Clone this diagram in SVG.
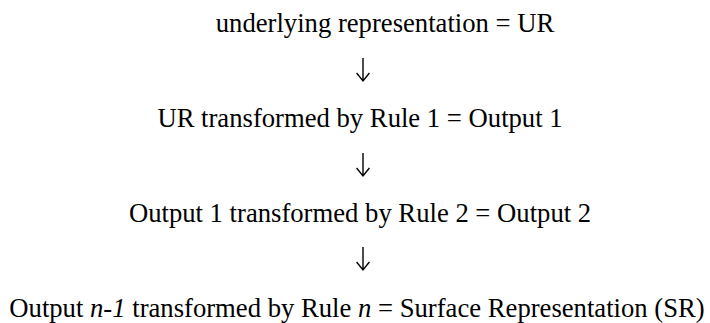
<svg xmlns="http://www.w3.org/2000/svg" width="710" height="323" viewBox="0 0 710 323">
<style>
.t{font-family:"Liberation Serif","Times New Roman",serif;font-size:26.67px;fill:#000;text-anchor:middle}
.a{stroke:#000;stroke-width:1.4;fill:none}
</style>
<defs>
<marker id="ah" viewBox="0 0 14 9" refX="7" refY="8" markerWidth="14" markerHeight="9" markerUnits="userSpaceOnUse" orient="auto-start-reverse">
</marker>
</defs>
<rect width="710" height="323" fill="#fff"/>
<g id="n1"><text class="t" x="385" y="32">underlying representation = UR</text></g>
<g id="n2"><text class="t" x="360" y="127">UR transformed by Rule 1 = Output 1</text></g>
<g id="n3"><text class="t" x="360" y="222">Output 1 transformed by Rule 2 = Output 2</text></g>
<g id="n4"><text class="t" x="357" y="317">Output <tspan font-style="italic">n-1</tspan> transformed by Rule <tspan font-style="italic">n</tspan> = Surface Representation (SR)</text></g>
<g id="connectors">
<path class="a" d="M363 58V81M356.6 73L363 81L369.4 73"/>
<path class="a" d="M363 153V176M356.6 168L363 176L369.4 168"/>
<path class="a" d="M363 247V270M356.6 262L363 270L369.4 262"/>
</g>
</svg>
